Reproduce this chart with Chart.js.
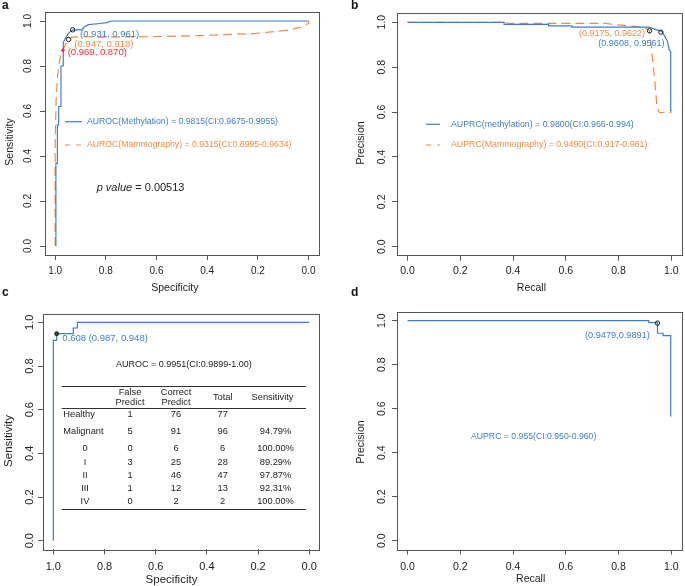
<!DOCTYPE html>
<html>
<head>
<meta charset="utf-8">
<title>ROC and PR curves</title>
<script src="https://cdn.jsdelivr.net/npm/chart.js@4.4.1/dist/chart.umd.min.js"></script>
<style>
  body { margin: 0; background: #fff; }
  #wrap { position: relative; width: 685px; height: 586px; }
  #wrap canvas { position: absolute; left: 0; top: 0; }
</style>
</head>
<body>
<div id="wrap">
  <canvas id="panelA" width="685" height="586"></canvas>
  <canvas id="panelB" width="685" height="586"></canvas>
  <canvas id="panelC" width="685" height="586"></canvas>
  <canvas id="panelD" width="685" height="586"></canvas>
</div>
<script>
const FONT = '"Liberation Sans", Arial, sans-serif';
const BLUE = '#3f7dcc';
const ORANGE = '#f28b42';
const RED = '#ff2a2a';
const AXIS = '#555555';
const INK = '#222222';
const X_AXIS_H = 28;

const tickValues = [0, 0.2, 0.4, 0.6, 0.8, 1.0];
const tickLabels = ['0.0', '0.2', '0.4', '0.6', '0.8', '1.0'];

// a: ROC, methylation vs mammography
const rocMethSpec = [0.997, 0.997, 0.991, 0.991, 0.986, 0.986, 0.977, 0.977, 0.968, 0.968, 0.961, 0.948, 0.931, 0.895, 0.882, 0.869, 0.823, 0.797, 0.777, 0.000];
const rocMethSens = [0.000, 0.367, 0.367, 0.538, 0.538, 0.620, 0.620, 0.800, 0.800, 0.905, 0.919, 0.945, 0.961, 0.961, 0.976, 0.984, 0.989, 0.993, 1.000, 1.000];
const rocMammoSpec = [1.000, 1.000, 0.996, 0.990, 0.983, 0.976, 0.969, 0.961, 0.947, 0.934, 0.888, 0.823, 0.626, 0.429, 0.206, 0.075, 0.022, 0.000, 0.000];
const rocMammoSens = [0.000, 0.450, 0.650, 0.760, 0.820, 0.856, 0.870, 0.893, 0.918, 0.928, 0.930, 0.928, 0.930, 0.935, 0.945, 0.960, 0.975, 0.990, 1.000];
const rocCutSpec = [0.931, 0.947];
const rocCutSens = [0.961, 0.918];
const rocRedSpec = [0.969];
const rocRedSens = [0.870];

// b: precision-recall, methylation vs mammography
const prMethRecall = [0.000, 0.366, 0.366, 0.535, 0.535, 0.623, 0.623, 0.913, 0.949, 0.965, 0.976, 0.986, 0.992, 0.998, 0.998];
const prMethPrec = [1.000, 1.000, 0.991, 0.991, 0.984, 0.984, 0.978, 0.978, 0.965, 0.958, 0.936, 0.914, 0.877, 0.869, 0.605];
const prMammoRecall = [0.000, 0.370, 0.380, 0.750, 0.800, 0.870, 0.905, 0.9175, 0.923, 0.936, 0.946, 0.955, 0.998, 1.000];
const prMammoPrec = [1.000, 1.000, 0.995, 0.995, 0.988, 0.981, 0.973, 0.9622, 0.906, 0.758, 0.624, 0.598, 0.598, 0.608];
const prCutRecall = [0.9175, 0.9608];
const prCutPrec = [0.9622, 0.9561];

// c: validation ROC
const valRocSpec = [1.000, 1.000, 0.987, 0.987, 0.922, 0.922, 0.906, 0.906, 0.000];
const valRocSens = [0.000, 0.917, 0.917, 0.948, 0.948, 0.974, 0.974, 1.000, 1.000];
const valCutSpec = [0.987];
const valCutSens = [0.948];

// c: table
const tableGroups = ['Healthy', 'Malignant', '0', 'I', 'II', 'III', 'IV'];
const falsePredict = [1, 5, 0, 3, 1, 1, 0];
const correctPredict = [76, 91, 6, 25, 46, 12, 2];
const totalCount = [77, 96, 6, 28, 47, 13, 2];
const sensitivityPct = ['', '94.79%', '100.00%', '89.29%', '97.87%', '92.31%', '100.00%'];

// d: validation PR
const valPrRecall = [0.000, 0.915, 0.915, 0.948, 0.948, 0.969, 0.969, 0.998, 0.998];
const valPrPrec = [1.000, 1.000, 0.991, 0.991, 0.943, 0.943, 0.932, 0.932, 0.564];
const valPrCutRecall = [0.9479];
const valPrCutPrec = [0.9891];

function pts(xs, ys) {
  return xs.map((x, i) => ({ x: x, y: ys[i] }));
}

function curve(xs, ys, color, dash, order) {
  return {
    data: pts(xs, ys), showLine: true, borderColor: color, borderWidth: 1.2,
    borderDash: dash || [], pointRadius: 0, pointHoverRadius: 0, tension: 0, order: order
  };
}

function marks(xs, ys, border, fill, r) {
  return {
    data: pts(xs, ys), showLine: false, pointRadius: r, pointHoverRadius: r,
    borderColor: border, backgroundColor: fill, borderWidth: 1, order: 0
  };
}

function txt(ctx, s, x, y, size, color, align, style) {
  ctx.font = (style || '') + ' ' + size + 'px ' + FONT;
  ctx.fillStyle = color;
  ctx.textAlign = align || 'left';
  ctx.textBaseline = 'middle';
  ctx.fillText(s, x, y);
}

function legendLine(ctx, x1, x2, y, color, dash) {
  ctx.save();
  ctx.strokeStyle = color;
  ctx.lineWidth = 1.2;
  ctx.setLineDash(dash || []);
  ctx.beginPath();
  ctx.moveTo(x1, y);
  ctx.lineTo(x2, y);
  ctx.stroke();
  ctx.restore();
}

function axis(reverse, size, pad, showLabels) {
  return {
    type: 'linear', min: -0.04, max: 1.04, reverse: reverse,
    afterBuildTicks: s => { s.ticks = tickValues.map(v => ({ value: v })); },
    // fixed sizes so the plot box lands where the reference has it
    afterFit: s => { if (s.isHorizontal()) s.height = X_AXIS_H; else s.width = 0; },
    border: { display: false },
    grid: { drawOnChartArea: false, drawTicks: true, tickLength: 5, color: AXIS, lineWidth: 1 },
    ticks: {
      display: showLabels, autoSkip: false, maxRotation: 0, padding: pad, color: INK,
      font: { family: FONT, size: size },
      callback: (v, i) => tickLabels[i]
    }
  };
}

function panel(id, box, o) {
  const frame = {
    id: 'frame',
    afterDraw(chart) {
      const ctx = chart.ctx, a = chart.chartArea;
      const ys = chart.scales.y;
      ctx.save();
      ctx.strokeStyle = AXIS;
      ctx.lineWidth = 1;
      ctx.strokeRect(Math.round(a.left) + 0.5, Math.round(a.top) + 0.5,
        Math.round(a.right - a.left), Math.round(a.bottom - a.top));

      ys.ticks.forEach((t, i) => {
        ctx.save();
        ctx.translate(a.left - o.yLabelGap, ys.getPixelForValue(t.value));
        ctx.rotate(-Math.PI / 2);
        txt(ctx, tickLabels[i], 0, 0, o.tickSize, INK, 'center');
        ctx.restore();
      });

      const midX = (a.left + a.right) / 2, midY = (a.top + a.bottom) / 2;
      txt(ctx, o.xTitle, midX + o.titleDX, a.bottom + o.xTitleDY, o.titleSize, INK, 'center');
      ctx.save();
      ctx.translate(a.left - o.yTitleGap, midY + o.yTitleDY);
      ctx.rotate(-Math.PI / 2);
      txt(ctx, o.yTitle, 0, 0, o.titleSize, INK, 'center');
      ctx.restore();

      txt(ctx, o.letter[0], o.letter[1], o.letter[2], 12, '#111', 'left', 'bold');

      if (o.draw) o.draw(ctx, a, chart.scales.x, ys);
      ctx.restore();
    }
  };

  return new Chart(document.getElementById(id), {
    type: 'scatter',
    data: { datasets: o.datasets },
    options: {
      responsive: false, animation: false, events: [],
      layout: { padding: { left: box[0], top: box[1], right: 685 - box[2], bottom: 586 - box[3] - X_AXIS_H } },
      plugins: { legend: { display: false }, tooltip: { enabled: false } },
      scales: {
        x: axis(o.xReverse, o.tickSize, o.tickPad, true),
        y: axis(false, o.tickSize, 0, false)
      }
    },
    plugins: [frame]
  });
}

panel('panelA', [45, 12, 318.7, 255], {
  xReverse: true, tickSize: 10, titleSize: 10.5, tickPad: 5, yLabelGap: 16.5,
  xTitle: 'Specificity', yTitle: 'Sensitivity', titleDX: -7, xTitleDY: 33.3, yTitleGap: 35, yTitleDY: 8.5,
  letter: ['a', 2, 6],
  datasets: [
    marks(rocCutSpec, rocCutSens, '#222', 'rgba(0,0,0,0)', 2.2),
    marks(rocRedSpec, rocRedSens, RED, RED, 1.3),
    curve(rocMethSpec, rocMethSens, BLUE, [], 1),
    curve(rocMammoSpec, rocMammoSens, ORANGE, [9, 5], 2)
  ],
  draw(ctx, a, xs, ys) {
    const p = (i) => [xs.getPixelForValue(rocCutSpec[i]), ys.getPixelForValue(rocCutSens[i])];
    let q = p(0);
    txt(ctx, '(0.931, 0.961)', q[0] + 7.4, q[1] + 4.5, 9.5, BLUE);
    q = p(1);
    txt(ctx, '(0.947, 0.918)', q[0] + 5.7, q[1] + 4.5, 9.5, ORANGE);
    const rx = xs.getPixelForValue(rocRedSpec[0]), ry = ys.getPixelForValue(rocRedSens[0]);
    txt(ctx, '(0.969, 0.870)', rx + 4.7, ry + 2, 9.5, RED);

    legendLine(ctx, a.left + 20, a.left + 37, a.top + 109.7, BLUE);
    txt(ctx, 'AUROC(Methylation) = 0.9815(CI:0.9675-0.9955)', a.left + 42, a.top + 109.7, 8.7, BLUE);
    legendLine(ctx, a.left + 20, a.left + 37, a.top + 133, ORANGE, [5, 6]);
    txt(ctx, 'AUROC(Mammography) = 0.9315(CI:0.8995-0.9634)', a.left + 42, a.top + 133, 8.7, ORANGE);

    txt(ctx, 'p value', a.left + 51.7, a.top + 176.3, 11, INK, 'left', 'italic');
    const w = ctx.measureText('p value').width;
    txt(ctx, ' = 0.00513', a.left + 51.7 + w, a.top + 176.3, 11, INK);
  }
});

panel('panelB', [397, 13.3, 684.3, 255.7], {
  xReverse: false, tickSize: 10.5, titleSize: 10.5, tickPad: 4.5, yLabelGap: 15,
  xTitle: 'Recall', yTitle: 'Precision', titleDX: -8, xTitleDY: 32.8, yTitleGap: 36.2, yTitleDY: 8.5,
  letter: ['b', 351, 6],
  datasets: [
    marks(prCutRecall, prCutPrec, '#222', 'rgba(0,0,0,0)', 2.2),
    curve(prMethRecall, prMethPrec, BLUE, [], 1),
    curve(prMammoRecall, prMammoPrec, ORANGE, [9, 5], 2)
  ],
  draw(ctx, a, xs, ys) {
    const p = (i) => [xs.getPixelForValue(prCutRecall[i]), ys.getPixelForValue(prCutPrec[i])];
    let q = p(0);
    txt(ctx, '(0.9175, 0.9622)', q[0] - 4.4, q[1] + 2.5, 9, ORANGE, 'right');
    q = p(1);
    txt(ctx, '(0.9608, 0.9561)', q[0] + 3.5, q[1] + 11, 9, BLUE, 'right');

    legendLine(ctx, a.left + 29, a.left + 43, a.top + 111, BLUE);
    txt(ctx, 'AUPRC(methylation) = 0.9800(CI:0.966-0.994)', a.left + 54, a.top + 111, 8.8, BLUE);
    legendLine(ctx, a.left + 29, a.left + 43, a.top + 131.7, ORANGE, [5, 6]);
    txt(ctx, 'AUPRC(Mammography) = 0.9490(CI:0.917-0.981)', a.left + 54, a.top + 131.7, 8.8, ORANGE);
  }
});

panel('panelC', [43.1, 313.6, 319.5, 549.4], {
  xReverse: true, tickSize: 11, titleSize: 11.5, tickPad: 5.7, yLabelGap: 13.5,
  xTitle: 'Specificity', yTitle: 'Sensitivity', titleDX: -9.8, xTitleDY: 30.6, yTitleGap: 34.1, yTitleDY: 9.5,
  letter: ['c', 2, 293],
  datasets: [
    marks(valCutSpec, valCutSens, '#222', '#444', 2),
    curve(valRocSpec, valRocSens, BLUE, [], 1)
  ],
  draw(ctx, a, xs, ys) {
    const px = xs.getPixelForValue(valCutSpec[0]), py = ys.getPixelForValue(valCutSens[0]);
    txt(ctx, '0.608 (0.987, 0.948)', px + 5.6, py + 4.6, 9.5, BLUE);
    txt(ctx, 'AUROC = 0.9951(CI:0.9899-1.00)', a.left + 72.9, a.top + 51.4, 9, INK);

    // table
    const L = a.left, T = a.top, fs = 9.3;
    ctx.strokeStyle = '#333';
    ctx.lineWidth = 1;
    [72.1, 94.7, 195.7].forEach(dy => {
      ctx.beginPath();
      ctx.moveTo(L + 18.6, Math.round(T + dy) + 0.5);
      ctx.lineTo(L + 262.9, Math.round(T + dy) + 0.5);
      ctx.stroke();
    });
    const cFalse = L + 86.9, cCorrect = L + 132.9, cTotal = L + 179.6, cSens = L + 229.4;
    txt(ctx, 'False', cFalse, T + 78.7, fs, INK, 'center');
    txt(ctx, 'Predict', cFalse, T + 88.6, fs, INK, 'center');
    txt(ctx, 'Correct', cCorrect, T + 78.7, fs, INK, 'center');
    txt(ctx, 'Predict', cCorrect, T + 88.6, fs, INK, 'center');
    txt(ctx, 'Total', cTotal, T + 83.7, fs, INK, 'center');
    txt(ctx, 'Sensitivity', cSens, T + 83.7, fs, INK, 'center');

    const rowY = [100.4, 117.4, 134.4, 148.7, 162.1, 174.4, 187.7];
    tableGroups.forEach((g, i) => {
      const y = T + rowY[i];
      if (i < 2) txt(ctx, g, L + 20.2, y, fs, INK);
      else txt(ctx, g, L + 41.9, y, fs, INK, 'center');
      txt(ctx, String(falsePredict[i]), cFalse, y, fs, INK, 'center');
      txt(ctx, String(correctPredict[i]), cCorrect, y, fs, INK, 'center');
      txt(ctx, String(totalCount[i]), cTotal, y, fs, INK, 'center');
      txt(ctx, sensitivityPct[i], L + 232.4, y, fs, INK, 'center');
    });
  }
});

panel('panelD', [397, 311.9, 684, 549.5], {
  xReverse: false, tickSize: 10.5, titleSize: 10.5, tickPad: 5.9, yLabelGap: 15,
  xTitle: 'Recall', yTitle: 'Precision', titleDX: -8.7, xTitleDY: 29.5, yTitleGap: 36.2, yTitleDY: 11.3,
  letter: ['d', 351, 293],
  datasets: [
    marks(valPrCutRecall, valPrCutPrec, '#222', 'rgba(0,0,0,0)', 2.2),
    curve(valPrRecall, valPrPrec, BLUE, [], 1)
  ],
  draw(ctx, a, xs, ys) {
    const px = xs.getPixelForValue(valPrCutRecall[0]), py = ys.getPixelForValue(valPrCutPrec[0]);
    txt(ctx, '(0.9479,0.9891)', px - 7.7, py + 12.6, 9.2, BLUE, 'right');
    txt(ctx, 'AUPRC = 0.955(CI:0.950-0.960)', a.left + 74, a.top + 124.8, 8.7, BLUE);
  }
});
</script>
</body>
</html>
